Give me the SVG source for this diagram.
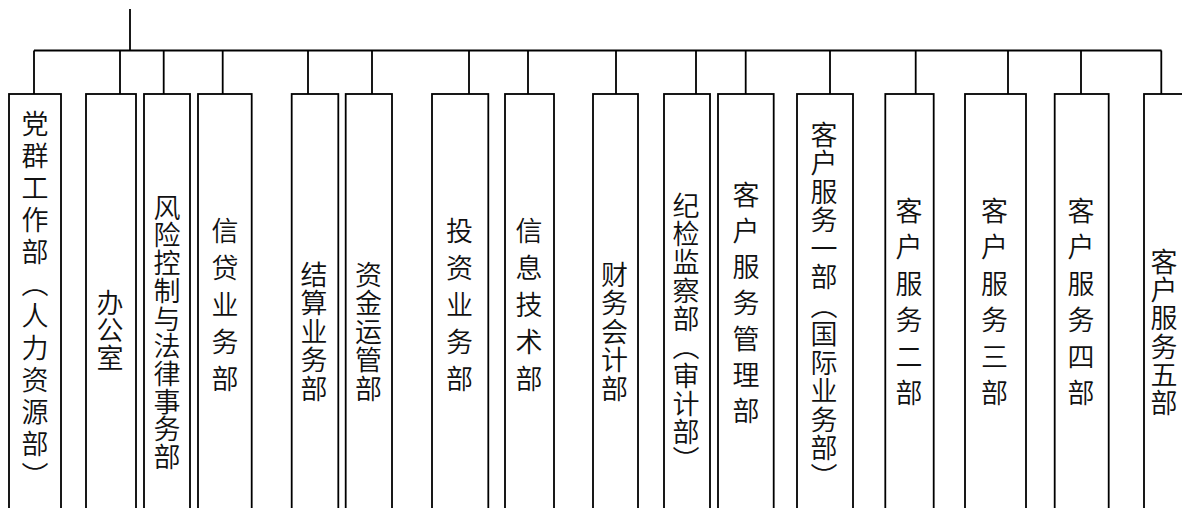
<svg xmlns="http://www.w3.org/2000/svg" width="1182" height="508" viewBox="0 0 1182 508">
<style>
.box{fill:#fff;stroke:#000;stroke-width:1.8}
.ln{fill:none;stroke:#000;stroke-width:1.8}
.t{font-family:"Noto Sans CJK SC","Noto Sans CJK TC",sans-serif;font-size:27px;font-weight:350;fill:#111;writing-mode:vertical-rl}
</style>
<rect width="1182" height="508" fill="#fff"/>
<g id="connectors" class="ln">
<path d="M130,9V50.5"/>
<path d="M34,50.5H1161.5"/>
<path d="M34,50.5V94M120,50.5V94M163.7,50.5V94M222.7,50.5V94M308,50.5V94M372,50.5V94M469,50.5V94M528,50.5V94M616,50.5V94M696,50.5V94M745.7,50.5V94M830,50.5V94M915.7,50.5V94M1008,50.5V94M1081,50.5V94M1161.3,50.5V94"/>
</g>
<g id="n1"><rect class="box" x="9" y="94" width="52" height="430"/><text class="t" x="35" y="110" style="letter-spacing:5px">党群工作部（人力资源部）</text></g>
<g id="n2"><rect class="box" x="86" y="94" width="50" height="430"/><text class="t" x="110" y="289" style="letter-spacing:0.5px">办公室</text></g>
<g id="n3"><rect class="box" x="144" y="94" width="46" height="430"/><text class="t" x="167" y="194" style="letter-spacing:0.7px">风险控制与法律事务部</text></g>
<g id="n4"><rect class="box" x="198" y="94" width="53.7" height="430"/><text class="t" x="225" y="217" style="letter-spacing:10px">信贷业务部</text></g>
<g id="n5"><rect class="box" x="291.7" y="94" width="46.6" height="430"/><text class="t" x="314" y="261" style="letter-spacing:1.5px">结算业务部</text></g>
<g id="n6"><rect class="box" x="345.7" y="94" width="46.3" height="430"/><text class="t" x="368.5" y="261" style="letter-spacing:1.5px">资金运管部</text></g>
<g id="n7"><rect class="box" x="432" y="94" width="56.3" height="430"/><text class="t" x="459.5" y="217" style="letter-spacing:10px">投资业务部</text></g>
<g id="n8"><rect class="box" x="505" y="94" width="49" height="430"/><text class="t" x="529" y="217" style="letter-spacing:10px">信息技术部</text></g>
<g id="n9"><rect class="box" x="593" y="94" width="45" height="430"/><text class="t" x="614.5" y="261" style="letter-spacing:1.5px">财务会计部</text></g>
<g id="n10"><rect class="box" x="664" y="94" width="46" height="430"/><text class="t" x="686" y="192" style="letter-spacing:1.3px">纪检监察部（审计部）</text></g>
<g id="n11"><rect class="box" x="718" y="94" width="55.7" height="430"/><text class="t" x="746" y="181" style="letter-spacing:9px">客户服务管理部</text></g>
<g id="n12"><rect class="box" x="797" y="94" width="56" height="430"/><text class="t" x="824" y="121" style="letter-spacing:1.5px">客户服务一部（国际业务部）</text></g>
<g id="n13"><rect class="box" x="885.3" y="94" width="48.4" height="430"/><text class="t" x="909" y="197" style="letter-spacing:9.5px">客户服务二部</text></g>
<g id="n14"><rect class="box" x="965" y="94" width="61" height="430"/><text class="t" x="994.5" y="197" style="letter-spacing:9.5px">客户服务三部</text></g>
<g id="n15"><rect class="box" x="1054.7" y="94" width="54" height="430"/><text class="t" x="1081" y="197" style="letter-spacing:9.5px">客户服务四部</text></g>
<g id="n16"><rect class="box" x="1144" y="94" width="42" height="430"/><text class="t" x="1164" y="248" style="letter-spacing:1.3px">客户服务五部</text></g>
</svg>
